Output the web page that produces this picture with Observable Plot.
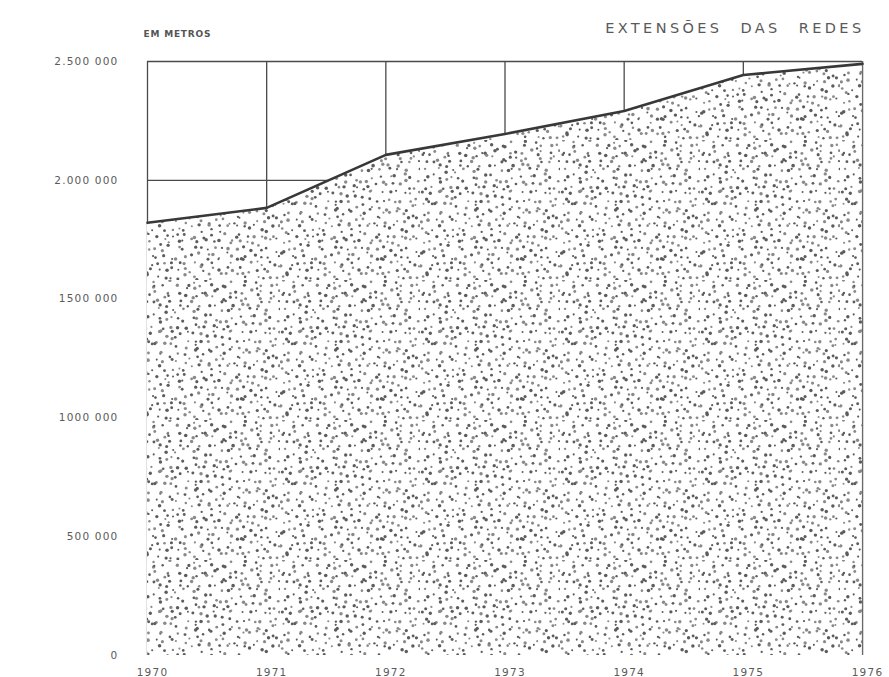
<!DOCTYPE html>
<html>
<head>
<meta charset="utf-8">
<script src="https://cdn.jsdelivr.net/npm/d3@7"></script>
<script src="https://cdn.jsdelivr.net/npm/@observablehq/plot@0.6"></script>
<style>
  body { margin: 0; background: #ffffff; }
  #chart svg { display: block; }
</style>
</head>
<body>
<div id="chart"></div>
<script>
// ---- data ----
const years = [1970, 1971, 1972, 1973, 1974, 1975, 1976];
const lengths = [1821000, 1884000, 2107000, 2195000, 2292000, 2443000, 2490000];
const xTickLabels = ["1970", "1971", "1972", "1973", "1974", "1975", "1976"];
const yTicks = [0, 500000, 1000000, 1500000, 2000000, 2500000];
const yTickLabels = ["0", "500 000", "1000 000", "1500 000", "2.000 000", "2.500 000"];
const gridLevels = [2000000, 2500000];
const title = "EXTENSÕES DAS REDES";
const unitLabel = "EM METROS";

const data = years.map((year, i) => ({year, value: lengths[i]}));

const ink = "#4a4a4a";
const textInk = "#5a5a5a";
const font = "'DejaVu Sans', sans-serif";

const svg = Plot.plot({
  width: 889,
  height: 677,
  marginLeft: 147,
  marginRight: 27,
  marginTop: 61,
  marginBottom: 22,
  style: {fontFamily: font, background: "#ffffff", color: textInk},
  x: {domain: [1970, 1976], axis: null, label: null},
  y: {domain: [0, 2500000], axis: null, label: null},
  marks: [
    Plot.ruleX(years, {x: d => d, y1: 0, y2: 2500000, stroke: ink, strokeWidth: 1.3}),
    Plot.ruleY(gridLevels, {y: d => d, x1: 1970, x2: 1976, stroke: ink, strokeWidth: 1.3}),
    Plot.areaY(data, {x: "year", y: "value", fill: "#ffffff"}),
    Plot.areaY(data, {x: "year", y: "value", fill: "url(#stipple)"}),
    Plot.ruleX([1976], {x: d => d, y1: 0, y2: 2500000, stroke: "#6a6a6a", strokeWidth: 1.2}),
    Plot.lineY(data, {x: "year", y: "value", stroke: "#383838", strokeWidth: 2.6, strokeLinejoin: "round"}),
    Plot.axisX(years, {
      tickFormat: d => xTickLabels[years.indexOf(d)], label: null,
      tickSize: 0, tickPadding: 13, dx: 5, fontSize: 10.5, fill: textInk
    }),
    Plot.axisY(yTicks, {
      tickFormat: d => yTickLabels[yTicks.indexOf(d)], label: null,
      tickSize: 0, tickPadding: 29, fontSize: 10.5, fill: textInk
    }),
    Plot.text([title], {
      frameAnchor: "top-right", textAnchor: "end", dx: 2, dy: -39,
      fontSize: 14.5, fill: textInk, text: d => d
    }),
    Plot.text([unitLabel], {
      frameAnchor: "top-left", textAnchor: "start", dx: -4, dy: -31,
      fontSize: 9, fontWeight: "bold", fill: "#555555", text: d => d
    })
  ]
});

// stipple texture (decoration only): jittered grid of small dots in a repeating tile
const ns = "http://www.w3.org/2000/svg";
const defs = document.createElementNS(ns, "defs");
const pat = document.createElementNS(ns, "pattern");
const tile = 140, step = 7;
pat.setAttribute("id", "stipple");
pat.setAttribute("patternUnits", "userSpaceOnUse");
pat.setAttribute("width", tile);
pat.setAttribute("height", tile);
const bg = document.createElementNS(ns, "rect");
bg.setAttribute("width", tile); bg.setAttribute("height", tile); bg.setAttribute("fill", "#ffffff");
pat.appendChild(bg);
const h = (a, b, s) => {
  let x = Math.imul(a, 374761393) ^ Math.imul(b, 668265263) ^ Math.imul(s, 2246822519);
  x = Math.imul(x ^ (x >>> 13), 1274126177);
  x = x ^ (x >>> 16);
  return (x >>> 0) / 4294967296;
};
for (let i = 0; i < tile / step; i++) {
  for (let j = 0; j < tile / step; j++) {
    const c = document.createElementNS(ns, "circle");
    const cx = i * step + h(i, j, 1) * step;
    const cy = j * step + h(i, j, 2) * step;
    const r = 1.0 + h(i, j, 3) * 0.8;
    c.setAttribute("cx", cx.toFixed(2));
    c.setAttribute("cy", cy.toFixed(2));
    c.setAttribute("r", r.toFixed(2));
    c.setAttribute("fill", h(i, j, 4) > 0.45 ? "#5c5c5c" : "#8a8a8a");
    pat.appendChild(c);
  }
}
defs.appendChild(pat);
svg.insertBefore(defs, svg.firstChild);

// lettering spacing to mimic the stencil style
d3.select(svg).selectAll("text").each(function() {
  const t = this.textContent;
  if (t === title) { this.setAttribute("letter-spacing", "3.4"); this.setAttribute("word-spacing", "10"); }
  else if (t === unitLabel) { this.setAttribute("letter-spacing", "0.8"); }
});
d3.select(svg).selectAll("g[aria-label='x-axis tick label'] text, g[aria-label='y-axis tick label'] text")
  .attr("letter-spacing", "1.2");

document.getElementById("chart").appendChild(svg);
</script>
</body>
</html>
